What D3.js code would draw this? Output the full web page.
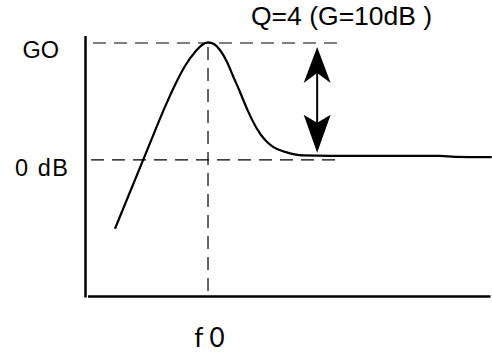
<!DOCTYPE html>
<html><head><meta charset="utf-8">
<script src="https://cdn.jsdelivr.net/npm/d3@7"></script>
<style>body{margin:0;background:#fff}svg{display:block}</style>
</head><body>
<svg id="c" width="492" height="353"></svg>
<script>
// frequency (arbitrary units, f0 = 30.25) and gain (dB)
const freq = [7.28, 9.75, 12.22, 14.69, 17.16, 19.63, 22.1, 24.57, 27.04, 28.77, 30.25, 31.73, 33.2, 34.94, 36.42, 38.15, 39.88, 42.35, 44.3, 46.3, 49.3, 53.7, 60.4, 77.7, 87.5, 91.2, 100.3];
const gain = [-5.9, -3.8, -1.71, 0.38, 2.48, 4.53, 6.41, 8.03, 9.23, 9.83, 10.06, 9.91, 9.4, 8.37, 7.18, 5.81, 4.36, 2.65, 1.71, 1.11, 0.68, 0.38, 0.34, 0.34, 0.34, 0.26, 0.23];
const yTickValues = [10, 0];
const yTickLabels = ["GO", "0 dB"];
const xTickValues = [30.25];
const xTickLabels = ["f 0"];
const annotation = "Q=4 (G=10dB )";
const arrowFreq = 57.2;
const arrowRange = [9.66, 0.6];

const svg = d3.select("#c");
const x = d3.scaleLinear().domain([0, 100]).range([85.5, 490.5]);
const y = d3.scaleLinear().domain([-11.7, 10]).range([296.5, 43]);

// axes
svg.append("line").attr("x1", x(0)).attr("x2", x(0)).attr("y1", 36).attr("y2", 297.5)
  .attr("stroke", "#000").attr("stroke-width", 2.5);
svg.append("line").attr("x1", 88).attr("x2", x(100)).attr("y1", y(-11.7)).attr("y2", y(-11.7))
  .attr("stroke", "#000").attr("stroke-width", 2.6);

// dashed reference lines
const dash = "13,8";
svg.append("line").attr("x1", 93).attr("x2", 338).attr("y1", y(10)).attr("y2", y(10))
  .attr("stroke", "#000").attr("stroke-width", 1.2).attr("stroke-dasharray", dash);
svg.append("line").attr("x1", 91).attr("x2", 338).attr("y1", y(0)).attr("y2", y(0))
  .attr("stroke", "#000").attr("stroke-width", 1.2).attr("stroke-dasharray", dash);
svg.append("line").attr("x1", x(xTickValues[0])).attr("x2", x(xTickValues[0]))
  .attr("y1", 47).attr("y2", y(-11.7))
  .attr("stroke", "#000").attr("stroke-width", 1.2).attr("stroke-dasharray", dash);

// curve
const pts = freq.map((f, i) => [f, gain[i]]);
svg.append("path").datum(pts)
  .attr("d", d3.line().x(d => x(d[0])).y(d => y(d[1])).curve(d3.curveMonotoneX))
  .attr("fill", "none").attr("stroke", "#000").attr("stroke-width", 2.2);

// double arrow
const ax = x(arrowFreq), yt = y(arrowRange[0]), yb = y(arrowRange[1]);
svg.append("line").attr("x1", ax).attr("x2", ax).attr("y1", yt + 20).attr("y2", yb - 20)
  .attr("stroke", "#000").attr("stroke-width", 2);
svg.append("path")
  .attr("d", `M${ax},${yt} L${ax + 13.5},${yt + 36} L${ax},${yt + 26} L${ax - 13.5},${yt + 36} Z`)
  .attr("fill", "#000");
svg.append("path")
  .attr("d", `M${ax},${yb} L${ax + 13.5},${yb - 38} L${ax},${yb - 30} L${ax - 13.5},${yb - 38} Z`)
  .attr("fill", "#000");

// labels
const yLabX = [59, 68];
const yLabDy = [15, 16];
const yLabLen = [null, 53];
svg.selectAll("text.yl").data(yTickValues).enter().append("text")
  .attr("x", (d, i) => yLabX[i]).attr("y", (d, i) => y(d) + yLabDy[i])
  .attr("text-anchor", "end")
  .attr("textLength", (d, i) => yLabLen[i]).attr("lengthAdjust", "spacing")
  .attr("font-family", "Liberation Sans, Arial, sans-serif").attr("font-size", 23.5)
  .text((d, i) => yTickLabels[i]);
svg.selectAll("text.xl").data(xTickValues).enter().append("text")
  .attr("x", d => x(d) + 1.5).attr("y", 347)
  .attr("text-anchor", "middle")
  .attr("font-family", "Lato, Open Sans, sans-serif").attr("font-size", 26)
  .text((d, i) => xTickLabels[i]);
svg.append("text").attr("x", 251).attr("y", 25)
  .attr("font-family", "Liberation Sans, Arial, sans-serif").attr("font-size", 26.5)
  .text(annotation);
</script>
</body></html>
